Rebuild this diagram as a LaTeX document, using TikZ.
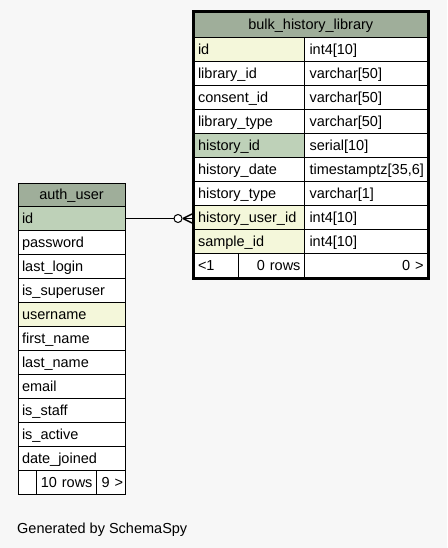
\documentclass[tikz,border=0pt]{standalone}
\usepackage{fontspec}
\setmainfont{Liberation Sans}
\definecolor{bgc}{HTML}{F7F7F7}
\definecolor{headc}{HTML}{9FAE9A}
\definecolor{pkc}{HTML}{BED1B8}
\definecolor{idxc}{HTML}{F4F7DA}
\newcommand\bhrow[5]{%
  \node[cell, fill=#5, text width=102.5pt, inner xsep=4pt] (bh-#1) at (193.5,#2) {#3};
  \node[cell, text width=113pt, inner xsep=5pt] (bh-#1-t) at (304,#2) {#4};}
\newcommand\aurow[4]{%
  \node[cell, fill=#4, text width=99pt, inner xsep=4pt] (au-#1) at (17.5,#2) {#3};}
\begin{document}
\begin{tikzpicture}[x=1pt,y=-1pt,
  font=\fontsize{14.5}{17}\selectfont,
  cell/.style={draw=black, line width=1pt, fill=white, rectangle, anchor=north west,
    minimum height=24pt, inner ysep=0pt, text height=11pt, text depth=1pt, align=left},
  headcell/.style={cell, fill=headc, align=center},
  footcell/.style={cell, align=right, inner xsep=4pt},
  conn/.style={draw=black, line width=1pt}]
\useasboundingbox[fill=bgc] (0,0) rectangle (447,548);
% ---------- bulk_history_library ----------
\node[headcell, minimum height=25.5pt, text width=225.5pt, inner xsep=4pt] (bh-head) at (193.5,11.5) {bulk\_history\_library};
\bhrow{id}{37}{id}{int4[10]}{idxc}
\bhrow{libid}{61}{library\_id}{varchar[50]}{white}
\bhrow{consid}{85}{consent\_id}{varchar[50]}{white}
\bhrow{libtype}{109}{library\_type}{varchar[50]}{white}
\bhrow{hid}{133}{history\_id}{serial[10]}{pkc}
\bhrow{hdate}{157}{history\_date}{timestamptz[35,6]}{white}
\bhrow{htype}{181}{history\_type}{varchar[1]}{white}
\bhrow{huid}{205}{history\_user\_id}{int4[10]}{idxc}
\bhrow{sid}{229}{sample\_id}{int4[10]}{idxc}
\node[footcell, align=left, text width=36.5pt] (bh-f1) at (193.5,253) {<1};
\node[footcell, text width=58pt, inner xsep=4pt] (bh-f2) at (238,253) {0~rows};
\node[footcell, text width=115pt] (bh-f3) at (304,253) {0~>};
\draw[line width=3pt] (bh-head.north west) rectangle (bh-f3.south east);
% ---------- auth_user ----------
\node[headcell, minimum height=23.5pt, text width=99pt, inner xsep=4pt] (au-head) at (17.5,182.5) {auth\_user};
\aurow{id}{206}{id}{pkc}
\aurow{pw}{230}{password}{white}
\aurow{ll}{254}{last\_login}{white}
\aurow{su}{278}{is\_superuser}{white}
\aurow{un}{302}{username}{idxc}
\aurow{fn}{326}{first\_name}{white}
\aurow{ln}{350}{last\_name}{white}
\aurow{em}{374}{email}{white}
\aurow{st}{398}{is\_staff}{white}
\aurow{ac}{422}{is\_active}{white}
\aurow{dj}{446}{date\_joined}{white}
\node[footcell, text width=10.5pt] (au-f1) at (17.5,470) {};
\node[footcell, text width=52pt] (au-f2) at (36,470) {10~rows};
\node[footcell, text width=24.5pt, inner xsep=2pt] (au-f3) at (96,470) {9~>};
% ---------- connector ----------
\coordinate (ce) at (au-id.east -| bh-huid.west);
\draw[conn] (au-id.east) -- ([xshift=-19.5pt]ce);
\draw[conn, fill=white] ([xshift=-15.5pt]ce) circle[radius=4pt];
\draw[conn, line width=1.4pt] ([xshift=-10.5pt]ce) -- ([xshift=-1.5pt,yshift=4.5pt]ce);
\draw[conn, line width=1.4pt] ([xshift=-10.5pt]ce) -- ([xshift=-1.5pt,yshift=-4.5pt]ce);
\draw[conn, line width=1.4pt] ([xshift=-10.5pt]ce) -- ([xshift=-1.5pt]ce);
% ---------- footer text ----------
\node[anchor=base west, inner sep=0pt] (gen) at (17,533) {Generated by SchemaSpy};
\end{tikzpicture}
\end{document}
